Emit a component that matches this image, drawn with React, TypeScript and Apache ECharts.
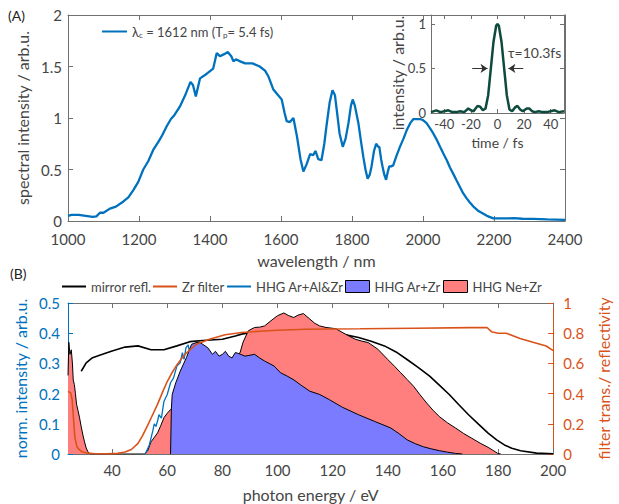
import React, { useEffect, useRef } from 'react';
import * as echarts from 'echarts';

// ---------- Panel A: spectrum ----------
const wavelength = [1000, 1010, 1030, 1050, 1070, 1080, 1090, 1100, 1118, 1135, 1156, 1170, 1184, 1198, 1212, 1226, 1240, 1255, 1265, 1278, 1290, 1300, 1315, 1330, 1345, 1352, 1360, 1372, 1391, 1409, 1419, 1428, 1440, 1450, 1460, 1466, 1473, 1485, 1499, 1520, 1540, 1555, 1565, 1578, 1592, 1602, 1610, 1616, 1625, 1635, 1645, 1655, 1663, 1672, 1682, 1691, 1697, 1705, 1714, 1722, 1728, 1737, 1745, 1752, 1757, 1765, 1774, 1782, 1790, 1797, 1802, 1808, 1818, 1825, 1832, 1838, 1844, 1850, 1855, 1862, 1868, 1874, 1877, 1882, 1886, 1891, 1896, 1901, 1905, 1910, 1916, 1925, 1935, 1945, 1954, 1964, 1973, 1982, 1992, 2000, 2010, 2020, 2029, 2040, 2048, 2058, 2067, 2076, 2085, 2095, 2104, 2113, 2123, 2132, 2142, 2155, 2165, 2180, 2198, 2220, 2255, 2280, 2310, 2350, 2400];
const spectrum = [0.05, 0.06, 0.06, 0.05, 0.04, 0.045, 0.08, 0.08, 0.12, 0.14, 0.19, 0.23, 0.3, 0.38, 0.5, 0.58, 0.69, 0.77, 0.83, 0.92, 0.99, 1.03, 1.11, 1.22, 1.35, 1.32, 1.21, 1.385, 1.43, 1.48, 1.63, 1.6, 1.62, 1.64, 1.6, 1.55, 1.57, 1.55, 1.53, 1.53, 1.5, 1.46, 1.4, 1.28, 1.22, 1.18, 1.05, 0.97, 0.96, 1.0, 0.82, 0.6, 0.48, 0.55, 0.65, 0.64, 0.68, 0.6, 0.59, 0.75, 0.92, 1.15, 1.27, 1.22, 1.08, 0.85, 0.72, 0.8, 0.95, 1.12, 1.18, 1.12, 0.95, 0.78, 0.62, 0.5, 0.41, 0.45, 0.53, 0.68, 0.75, 0.72, 0.72, 0.6, 0.53, 0.45, 0.4, 0.48, 0.53, 0.53, 0.54, 0.63, 0.72, 0.8, 0.88, 0.95, 0.99, 0.99, 0.99, 0.98, 0.95, 0.9, 0.85, 0.78, 0.72, 0.65, 0.59, 0.52, 0.46, 0.39, 0.33, 0.27, 0.22, 0.18, 0.14, 0.1, 0.08, 0.05, 0.025, 0.025, 0.027, 0.022, 0.02, 0.015, 0.01];
const SPEC_NAME = 'λc = 1612 nm (Tp= 5.4 fs)';

// ---------- Inset: pulse ----------
const pulseTime = [-50, -46, -43, -40, -37, -34, -31, -28, -25, -22, -20, -18, -15, -13, -11, -9, -7, -5, -3, -1, 0, 1, 3, 5, 7, 9, 11, 13, 15, 17, 19, 22, 24, 26, 28, 31, 34, 37, 40, 43, 46, 50];
const pulseIntensity = [0.01, 0.03, 0.01, 0.02, 0.03, 0.01, 0.01, 0.02, 0.01, 0.05, 0.03, 0.02, 0.08, 0.07, 0.03, 0.05, 0.2, 0.5, 0.8, 0.98, 1.0, 0.98, 0.8, 0.5, 0.2, 0.04, 0.02, 0.06, 0.08, 0.04, 0.02, 0.05, 0.05, 0.02, 0.01, 0.02, 0.01, 0.01, 0.02, 0.03, 0.01, 0.02];
const fwhmArrows = [[-19, -7.5, 0.5], [19.4, 8.2, 0.5]];
const insetXTicks = [-40, -20, 0, 20, 40];

// ---------- Panel B ----------
const energyTicks = [40, 60, 80, 100, 120, 140, 160, 180, 200];
const mirrorE = [28.8, 30.6, 32.9, 36.5, 40, 44.7, 49.4, 54.1, 58.8, 63.5, 68.2, 72.9, 80, 84.7, 87, 91.7, 96.4, 100, 110, 118, 123.5, 129.4, 134, 138.8, 143, 147, 151, 155.2, 158.7, 162.3, 165.8, 169.3, 173, 176.4, 179.5, 182.3, 185, 188.2, 194, 200];
const mirrorV = [0.274, 0.302, 0.319, 0.33, 0.341, 0.354, 0.358, 0.345, 0.345, 0.358, 0.372, 0.376, 0.38, 0.391, 0.397, 0.405, 0.41, 0.41, 0.41, 0.405, 0.397, 0.386, 0.373, 0.358, 0.338, 0.313, 0.287, 0.258, 0.228, 0.197, 0.163, 0.13, 0.098, 0.069, 0.047, 0.03, 0.019, 0.011, 0.003, 0.001];
const zrE = [24, 25, 25.5, 25.9, 26.5, 27.2, 28, 29, 31, 34, 38, 42, 44.7, 47, 49.4, 51, 52.9, 54.7, 56.5, 58.3, 60, 61.8, 63.5, 65.3, 67, 70.6, 75.3, 81, 87, 95, 100, 110, 130, 150, 170, 176, 177.6, 180, 183, 188, 193, 197.5, 200];
const zrT = [0.415, 0.405, 0.36, 0.26, 0.11, 0.05, 0.03, 0.015, 0.006, 0.002, 0.001, 0.004, 0.013, 0.03, 0.07, 0.12, 0.19, 0.26, 0.33, 0.41, 0.48, 0.54, 0.59, 0.635, 0.67, 0.727, 0.76, 0.79, 0.805, 0.815, 0.82, 0.826, 0.829, 0.833, 0.837, 0.838, 0.81, 0.8, 0.8, 0.765, 0.738, 0.715, 0.685];
const arAlE = [52, 53.5, 54.7, 55.3, 55.9, 56.5, 57.0, 57.9, 58.4, 58.8, 60.0, 61.2, 62.3, 63.5, 64.7, 65.5, 66.1, 66.8, 67.6, 68.2, 69, 70];
const arAlV = [0, 0.03, 0.074, 0.1, 0.091, 0.11, 0.13, 0.119, 0.15, 0.174, 0.197, 0.236, 0.252, 0.291, 0.302, 0.336, 0.313, 0.352, 0.361, 0.33, 0.34, 0.35];
const arE = [61.2, 61.5, 61.8, 63.1, 64.7, 67, 68.8, 70.5, 71.7, 72.9, 74.7, 76.4, 77.5, 78.8, 80, 81.1, 82.3, 83.5, 84.7, 85.8, 88.2, 91.7, 93.5, 95.3, 98.8, 101.1, 103.5, 106, 108.2, 111.7, 115.3, 118.8, 123.5, 129.4, 135.2, 141.1, 144, 147, 150, 152.9, 155.8, 158.7, 161.7, 164.6, 167];
const arV = [0, 0.15, 0.197, 0.236, 0.274, 0.32, 0.363, 0.369, 0.37, 0.363, 0.352, 0.33, 0.34, 0.324, 0.33, 0.34, 0.324, 0.318, 0.336, 0.333, 0.324, 0.33, 0.318, 0.308, 0.291, 0.269, 0.258, 0.245, 0.23, 0.208, 0.197, 0.18, 0.155, 0.13, 0.108, 0.086, 0.068, 0.047, 0.034, 0.024, 0.017, 0.011, 0.006, 0.002, 0];
const neE = [24, 24.3, 24.7, 25.2, 25.6, 25.9, 26.3, 26.7, 27.1, 27.6, 28.2, 28.8, 29.4, 30.0, 30.6, 31.2, 32, 51.7, 52.9, 54.1, 55.3, 56.5, 57.7, 58.8, 60, 61.2, 62, 65, 70, 75, 80, 84, 86.4, 87.5, 89.4, 91.7, 93.5, 95.3, 97.6, 100, 102.3, 104.1, 105.9, 107.5, 109.4, 111.7, 113.5, 115.3, 117.6, 121.1, 124.6, 128.2, 130.5, 132.9, 136.4, 140, 142.5, 144.7, 147, 149.4, 151.7, 154.1, 156.4, 158.7, 161.7, 164.6, 167.5, 170.5, 173.5, 176.4, 178.2, 179.9, 181];
const neV = [0.26, 0.37, 0.33, 0.345, 0.3, 0.245, 0.23, 0.2, 0.165, 0.145, 0.12, 0.09, 0.063, 0.04, 0.02, 0.008, 0, 0, 0.01, 0.04, 0.055, 0.07, 0.095, 0.12, 0.135, 0.147, 0.155, 0.19, 0.24, 0.27, 0.3, 0.32, 0.335, 0.37, 0.408, 0.419, 0.42, 0.424, 0.441, 0.458, 0.467, 0.458, 0.452, 0.46, 0.465, 0.447, 0.433, 0.424, 0.419, 0.415, 0.397, 0.38, 0.374, 0.369, 0.347, 0.313, 0.29, 0.269, 0.247, 0.224, 0.196, 0.169, 0.145, 0.124, 0.103, 0.086, 0.068, 0.052, 0.036, 0.022, 0.012, 0.002, 0];

const zip = (a: number[], b: number[]) => a.map((v, i) => [v, b[i]]);

const FONT = 'Lato, "Noto Sans", sans-serif';
const TXT = '#454545';
const AX = '#707070';
const BLUE = '#0072BD';
const ORANGE = '#D95319';
const AREA_BLUE = '#7b7bff';
const AREA_RED = '#ff7f7f';

function axisBase(color: string, labelColor: string, fontSize: number, showLabel: boolean, margin: number, z = 0) {
  return {
    type: 'value',
    z,
    splitLine: { show: false },
    axisLine: { show: true, onZero: false, lineStyle: { color, width: 1 } },
    axisTick: { show: true, inside: true, length: 5, lineStyle: { color } },
    axisLabel: { show: showLabel, color: labelColor, fontSize, fontFamily: FONT, margin, formatter: (v: number) => String(v) },
  };
}

export default function App() {
  const ref = useRef<HTMLDivElement>(null);
  useEffect(() => {
    const chart = echarts.init(ref.current!, null, { renderer: 'svg' });
    const nameStyle = (color: string, size: number) => ({ color, fontSize: size, fontFamily: FONT });
    const plain = (v: number) => String(v);

    const xAxis: any[] = [
      { ...axisBase(AX, TXT, 15, true, 10), gridIndex: 0, position: 'bottom', min: 1000, max: 2400, interval: 200,
        name: 'wavelength / nm', nameLocation: 'middle', nameGap: 31, nameTextStyle: nameStyle(TXT, 16) },
      { ...axisBase(AX, TXT, 15, false, 8), gridIndex: 0, position: 'top', min: 1000, max: 2400, interval: 200 },
      { ...axisBase(AX, TXT, 13, true, 5, 6), gridIndex: 1, position: 'bottom', min: -50, max: 50,
        axisTick: { show: true, inside: true, length: 4, lineStyle: { color: AX }, customValues: insetXTicks },
        axisLabel: { show: true, color: TXT, fontSize: 13, fontFamily: FONT, margin: 4, customValues: insetXTicks, formatter: plain },
        name: 'time / fs', nameLocation: 'middle', nameGap: 22, nameTextStyle: nameStyle(TXT, 14) },
      { ...axisBase(AX, TXT, 13, false, 5, 6), gridIndex: 1, position: 'top', min: -50, max: 50,
        axisTick: { show: true, inside: true, length: 4, lineStyle: { color: AX }, customValues: insetXTicks } },
      { ...axisBase(AX, TXT, 14, true, 8), gridIndex: 2, position: 'bottom', min: 24, max: 200,
        axisTick: { show: true, inside: true, length: 5, lineStyle: { color: AX }, customValues: energyTicks },
        axisLabel: { show: true, color: TXT, fontSize: 15, fontFamily: FONT, margin: 8, customValues: energyTicks, formatter: plain },
        name: 'photon energy / eV', nameLocation: 'middle', nameGap: 32, nameTextStyle: nameStyle(TXT, 16) },
      { ...axisBase(AX, TXT, 14, false, 8), gridIndex: 2, position: 'top', min: 24, max: 200,
        axisTick: { show: true, inside: true, length: 5, lineStyle: { color: AX }, customValues: energyTicks } },
    ];
    const yAxis: any[] = [
      { ...axisBase(AX, TXT, 15, true, 6), gridIndex: 0, position: 'left', min: 0, max: 2, interval: 0.5,
        name: 'spectral intensity / arb.u.', nameLocation: 'middle', nameRotate: 90, nameGap: 31, nameTextStyle: nameStyle(TXT, 16) },
      { ...axisBase(AX, TXT, 15, false, 6), gridIndex: 0, position: 'right', min: 0, max: 2, interval: 0.5 },
      { ...axisBase(AX, TXT, 13, true, 5, 6), gridIndex: 1, position: 'left', min: 0, max: 1.1, interval: 0.5,
        axisTick: { show: true, inside: true, length: 4, lineStyle: { color: AX } },
        axisLabel: { show: true, color: TXT, fontSize: 13, fontFamily: FONT, margin: 5, formatter: plain, showMaxLabel: false } },
      { ...axisBase(AX, TXT, 13, false, 5, 6), gridIndex: 1, position: 'right', min: 0, max: 1.1, interval: 0.5,
        axisTick: { show: true, inside: true, length: 4, lineStyle: { color: AX } } },
      { ...axisBase(BLUE, BLUE, 15, true, 8), gridIndex: 2, position: 'left', min: 0, max: 0.5, interval: 0.1,
        name: 'norm. intensity / arb.u.', nameLocation: 'middle', nameRotate: 90, nameGap: 31, nameTextStyle: nameStyle(BLUE, 16) },
      { ...axisBase(ORANGE, ORANGE, 15, true, 10), gridIndex: 2, position: 'right', min: 0, max: 1, interval: 0.2,
        name: 'filter trans./ reflectivity', nameLocation: 'middle', nameRotate: 90, nameGap: 40, nameTextStyle: nameStyle(ORANGE, 16) },
    ];

    const lineLegend = (name: string, left: number, top: number, color: string, w: number) => ({
      data: [name], left, top, padding: 0, itemGap: 0, itemWidth: w, itemHeight: 2, icon: 'rect', selectedMode: false,
      itemStyle: { color, borderWidth: 0 }, textStyle: { color: TXT, fontSize: 13, fontFamily: FONT },
    });
    const boxLegend = (name: string, left: number, top: number, color: string) => ({
      data: [name], left, top, padding: 0, itemGap: 0, itemWidth: 24, itemHeight: 12, icon: 'rect', selectedMode: false,
      itemStyle: { color, borderColor: '#000', borderWidth: 1 }, textStyle: { color: TXT, fontSize: 13, fontFamily: FONT },
    });

    const specLegend: any = lineLegend(SPEC_NAME, 102, 25, BLUE, 25);
    specLegend.formatter = () => '{a|λ}{s|c}{a| = 1612 nm (T}{s|p}{a|= 5.4 fs)}';
    specLegend.textStyle = {
      color: TXT, fontSize: 13, fontFamily: FONT,
      rich: {
        a: { color: TXT, fontSize: 13, fontFamily: FONT },
        s: { color: TXT, fontSize: 8, fontFamily: FONT, padding: [7, 0, 0, 0] },
      },
    };

    const option: any = {
      animation: false,
      backgroundColor: '#fff',
      grid: [
        { left: 68, top: 15, width: 497, height: 206 },
        { left: 431, top: 15, width: 133, height: 98, show: true, backgroundColor: '#fff', borderWidth: 0, z: 5 },
        { left: 68, top: 303, width: 496, height: 151 },
      ],
      xAxis,
      yAxis,
      legend: [
        specLegend,
        lineLegend('mirror refl.', 62, 280, '#000', 24),
        lineLegend('Zr filter', 153, 280, ORANGE, 24),
        lineLegend('HHG Ar+Al&Zr', 227, 280, BLUE, 24),
        boxLegend('HHG Ar+Zr', 345, 280, AREA_BLUE),
        boxLegend('HHG Ne+Zr', 443, 280, AREA_RED),
      ],
      series: [
        { type: 'line', name: SPEC_NAME, xAxisIndex: 0, yAxisIndex: 0, data: zip(wavelength, spectrum), symbol: 'none',
          lineStyle: { color: BLUE, width: 2.3 }, itemStyle: { color: BLUE }, z: 2 },
        { type: 'line', name: 'pulse', xAxisIndex: 2, yAxisIndex: 2, data: zip(pulseTime, pulseIntensity), symbol: 'none',
          lineStyle: { color: '#0e4a3e', width: 2.5 }, itemStyle: { color: '#0e4a3e' }, z: 7,
          markLine: {
            silent: true, symbol: ['none', 'arrow'], symbolSize: 7,
            lineStyle: { color: '#333', width: 1, type: 'solid' }, label: { show: false },
            data: fwhmArrows.map(([a, b, y]) => [{ coord: [a, y] }, { coord: [b, y] }]),
          } },
        { type: 'line', name: 'mirror refl.', xAxisIndex: 4, yAxisIndex: 4, data: zip(mirrorE, mirrorV), symbol: 'none',
          lineStyle: { color: '#000', width: 1.6 }, itemStyle: { color: '#000' }, z: 2 },
        { type: 'line', name: 'HHG Ne+Zr', xAxisIndex: 4, yAxisIndex: 4, data: zip(neE, neV), symbol: 'none',
          lineStyle: { color: '#000', width: 1 }, itemStyle: { color: AREA_RED }, areaStyle: { color: AREA_RED, opacity: 1 }, z: 3 },
        { type: 'line', name: 'HHG Ar+Al&Zr', xAxisIndex: 4, yAxisIndex: 4, data: zip(arAlE, arAlV), symbol: 'none',
          lineStyle: { color: BLUE, width: 1.3 }, itemStyle: { color: BLUE }, z: 4 },
        { type: 'line', name: 'HHG Ar+Zr', xAxisIndex: 4, yAxisIndex: 4, data: zip(arE, arV), symbol: 'none',
          lineStyle: { color: '#000', width: 1 }, itemStyle: { color: AREA_BLUE }, areaStyle: { color: AREA_BLUE, opacity: 1 }, z: 5 },
        { type: 'line', name: 'Zr filter', xAxisIndex: 4, yAxisIndex: 5, data: zip(zrE, zrT), symbol: 'none',
          lineStyle: { color: ORANGE, width: 1.6 }, itemStyle: { color: ORANGE }, z: 6 },
      ],
      graphic: [
        { type: 'text', left: 8, top: 8, style: { text: '(A)', fontSize: 14, fontFamily: FONT, fill: '#222' }, z: 100 },
        { type: 'text', left: 10, top: 266, style: { text: '(B)', fontSize: 14, fontFamily: FONT, fill: '#222' }, z: 100 },
        { type: 'text', left: 508, top: 45, style: { text: 'τ=10.3fs', fontSize: 14, fontFamily: FONT, fill: TXT }, z: 100 },
        { type: 'text', x: 397, y: 73, rotation: Math.PI / 2, z: 100,
          style: { text: 'intensity / arb.u.', fontSize: 16, fontFamily: FONT, fill: TXT, align: 'center', verticalAlign: 'middle' } },
      ],
    };
    chart.setOption(option);
    return () => chart.dispose();
  }, []);
  return <div ref={ref} style={{ position: 'fixed', left: 0, top: 0, width: 619, height: 504, background: '#fff' }} />;
}
